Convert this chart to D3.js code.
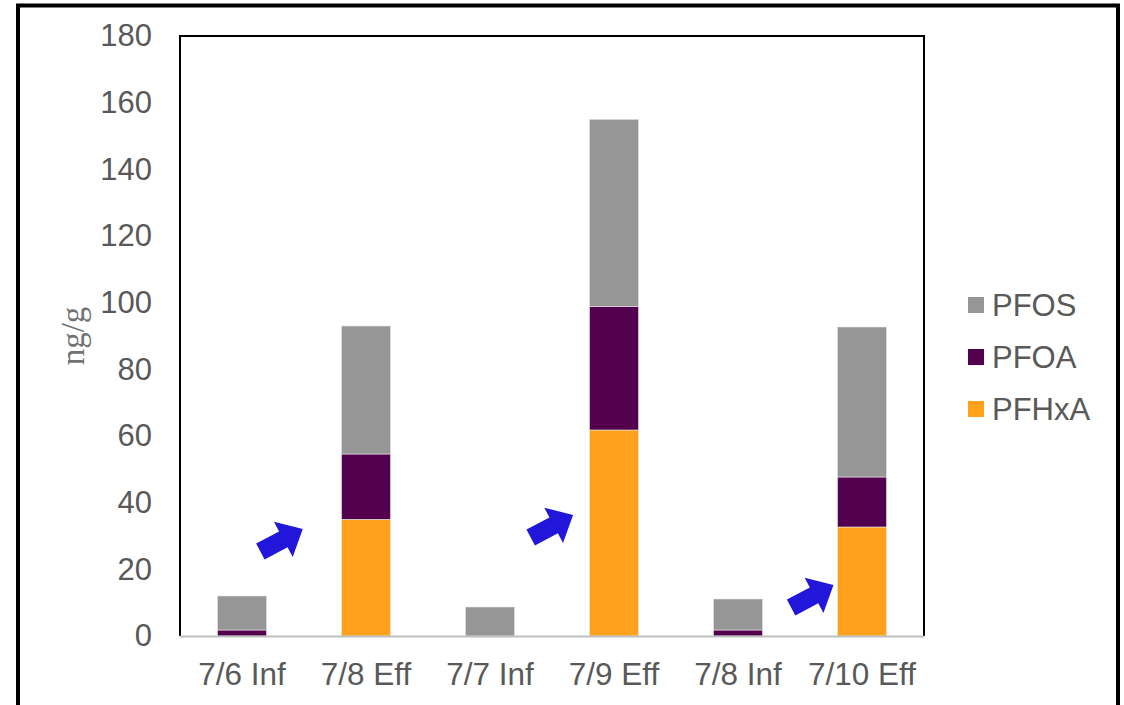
<!DOCTYPE html>
<html>
<head>
<meta charset="utf-8">
<script src="https://cdn.jsdelivr.net/npm/d3@7"></script>
<style>
  html, body { margin: 0; padding: 0; background: #fff; }
  svg { display: block; }
</style>
</head>
<body>
<svg id="chart" width="1124" height="705"></svg>
<script>
// Sample labels and per-compound concentrations (ng/g)
const categories = ["7/6 Inf", "7/8 Eff", "7/7 Inf", "7/9 Eff", "7/8 Inf", "7/10 Eff"];
const pfhxa = [0, 35, 0, 61.8, 0, 32.7];
const pfoa  = [1.8, 19.6, 0, 37, 1.8, 15];
const pfos  = [10.2, 38.4, 8.7, 56.2, 9.3, 45];
const seriesNames = ["PFHxA", "PFOA", "PFOS"];
const yTicks = [0, 20, 40, 60, 80, 100, 120, 140, 160, 180];
// Highlight arrows: tip position (category index + fractional offset, value)
const arrows = [
  { cat: 1, offset: -0.51, value: 32.1 },
  { cat: 3, offset: -0.33, value: 36.3 },
  { cat: 5, offset: -0.23, value: 15.3 }
];

const colors = { PFHxA: "#ffa11a", PFOA: "#53004f", PFOS: "#969696" };
const textColor = "#595959";
const font = "'Liberation Sans', Arial, sans-serif";

const svg = d3.select("#chart");
const plot = { left: 180, right: 924, top: 36, bottom: 636 };

// Outer frame (open at the bottom edge of the page)
svg.append("rect")
  .attr("x", 18).attr("y", 5.5)
  .attr("width", 1100).attr("height", 760)
  .attr("fill", "none").attr("stroke", "#000").attr("stroke-width", 4);

const x = d3.scaleBand().domain(categories)
  .range([plot.left, plot.right]).paddingInner(0.605).paddingOuter(0.3025);
const y = d3.scaleLinear().domain([0, 180]).range([plot.bottom, plot.top]);

const rows = categories.map((c, i) => ({ cat: c, PFHxA: pfhxa[i], PFOA: pfoa[i], PFOS: pfos[i] }));
const stacked = d3.stack().keys(seriesNames)(rows);

// Bars
svg.append("g").selectAll("g").data(stacked).join("g")
  .attr("fill", d => colors[d.key])
  .selectAll("rect").data(d => d.filter(s => s[1] - s[0] > 0)).join("rect")
  .attr("x", d => x(d.data.cat))
  .attr("width", x.bandwidth())
  .attr("y", d => y(d[1]))
  .attr("height", d => y(d[0]) - y(d[1]))
  .attr("stroke", "#e6e6e6").attr("stroke-width", 0.6);

// Plot area border (left, top, right)
svg.append("path")
  .attr("d", `M${plot.left},${plot.bottom} V${plot.top} H${plot.right} V${plot.bottom}`)
  .attr("fill", "none").attr("stroke", "#000").attr("stroke-width", 2);

// Category axis line
svg.append("line")
  .attr("x1", plot.left).attr("x2", plot.right)
  .attr("y1", plot.bottom + 0.5).attr("y2", plot.bottom + 0.5)
  .attr("stroke", "#bfbfbf").attr("stroke-width", 2);

// Y axis labels
const yAxis = d3.axisLeft(y).tickValues(yTicks).tickSize(0).tickPadding(28);
const gy = svg.append("g").attr("transform", `translate(${plot.left},0)`).call(yAxis);
gy.select(".domain").remove();
gy.selectAll("text").attr("fill", textColor).style("font-family", font).style("font-size", "31px");

// X axis labels
const xAxis = d3.axisBottom(x).tickSize(0).tickPadding(27);
const gx = svg.append("g").attr("transform", `translate(0,${plot.bottom})`).call(xAxis);
gx.select(".domain").remove();
gx.selectAll("text").attr("fill", textColor).style("font-family", font).style("font-size", "31.5px");

// Y axis title
svg.append("text")
  .attr("transform", `translate(84,336) rotate(-90)`)
  .attr("text-anchor", "middle")
  .attr("fill", "#737373")
  .style("font-family", "'Liberation Serif', 'Times New Roman', serif")
  .style("font-size", "33px")
  .text("ng/g");

// Legend
const legendOrder = ["PFOS", "PFOA", "PFHxA"];
const lg = svg.append("g").attr("transform", "translate(968,305)");
legendOrder.forEach((k, i) => {
  const g = lg.append("g").attr("transform", `translate(0,${i * 52})`);
  g.append("rect").attr("x", 0).attr("y", -8).attr("width", 16).attr("height", 16).attr("fill", colors[k]);
  g.append("text").attr("x", 24).attr("y", 0).attr("dy", "0.35em")
    .attr("fill", textColor).style("font-family", font).style("font-size", "31px").text(k);
});

// Block arrows pointing at the effluent bars
const step = x.step();
const arrowShape = [[0, 0], [-22, -20], [-22, -9], [-48, -9], [-48, 9], [-22, 9], [-22, 20]];
svg.append("g").selectAll("polygon").data(arrows).join("polygon")
  .attr("points", arrowShape.map(p => p.join(",")).join(" "))
  .attr("transform", d => {
    const tx = x(categories[d.cat]) + x.bandwidth() / 2 + d.offset * step;
    return `translate(${tx},${y(d.value)}) rotate(-28)`;
  })
  .attr("fill", "#2116d9");
</script>
</body>
</html>
